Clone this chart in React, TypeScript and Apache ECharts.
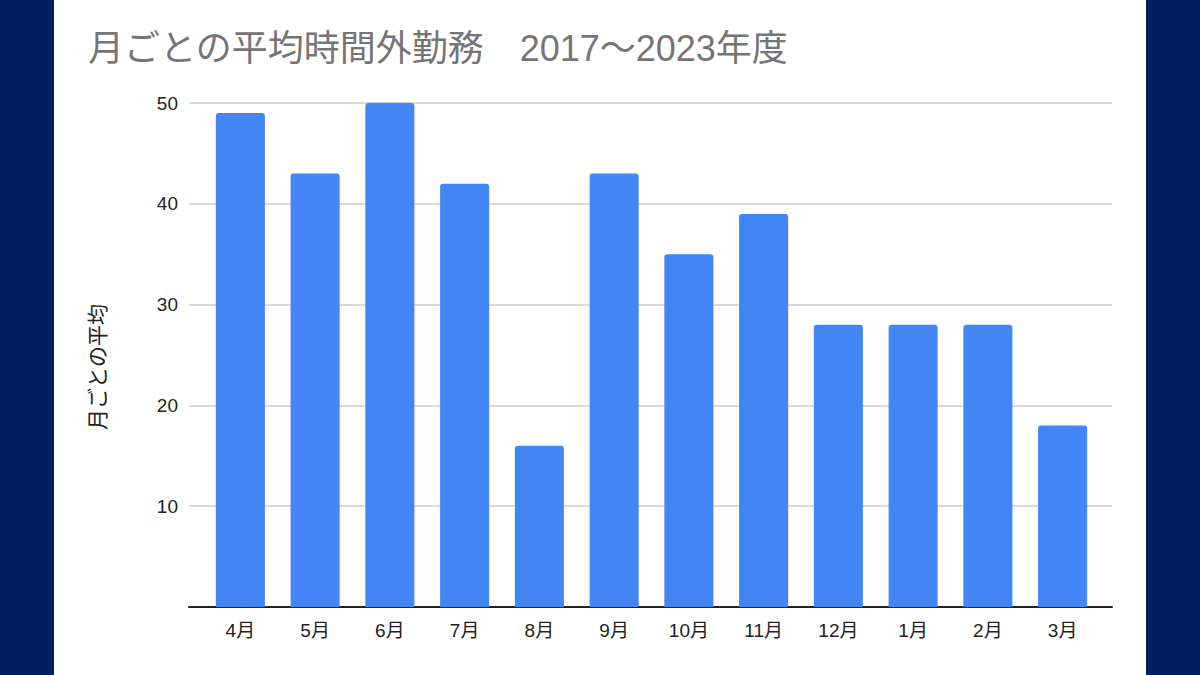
import React, { useEffect, useRef } from "react";
import * as echarts from "echarts";

const categories = ["4月", "5月", "6月", "7月", "8月", "9月", "10月", "11月", "12月", "1月", "2月", "3月"];
const values = [49, 43, 50, 42, 16, 43, 35, 39, 28, 28, 28, 18];
const yTicks = [10, 20, 30, 40, 50];
const titleText = "月ごとの平均時間外勤務　2017～2023年度";
const yAxisName = "月ごとの平均";

const FONT = "'Liberation Sans', Arial, 'Noto Sans CJK JP', sans-serif";

export default function App() {
  const ref = useRef<HTMLDivElement>(null);
  useEffect(() => {
    if (!ref.current) return;
    const chart = echarts.init(ref.current, undefined, { renderer: "svg" });
    chart.setOption({
      animation: false,
      backgroundColor: "#ffffff",
      textStyle: { fontFamily: FONT },
      title: {
        text: titleText,
        left: 83,
        top: 25,
        textStyle: { color: "#757575", fontSize: 36, fontWeight: "normal", fontFamily: FONT },
      },
      graphic: [
        { type: "rect", left: 0, top: 0, shape: { width: 54, height: 675 }, style: { fill: "#001f5f" }, silent: true },
        { type: "rect", left: 1146, top: 0, shape: { width: 54, height: 675 }, style: { fill: "#001f5f" }, silent: true },
        {
          type: "text",
          x: 97,
          y: 367,
          rotation: Math.PI / 2,
          style: {
            text: yAxisName,
            fill: "#222222",
            fontSize: 21,
            fontFamily: FONT,
            align: "center",
            verticalAlign: "middle",
          },
          silent: true,
        },
      ],
      grid: [
        { left: 189, right: 88, top: 103, bottom: 68, containLabel: false },
        { left: 203, right: 100, top: 103, bottom: 68, containLabel: false },
      ],
      xAxis: [
        {
          type: "category",
          gridIndex: 0,
          data: categories,
          axisLine: { show: true, lineStyle: { color: "#222222", width: 2 } },
          axisTick: { show: false },
          axisLabel: { show: false },
          splitLine: { show: false },
        },
        {
          type: "category",
          gridIndex: 1,
          data: categories,
          axisLine: { show: false },
          axisTick: { show: false },
          axisLabel: { color: "#222222", fontSize: 19, margin: 14, fontFamily: FONT },
          splitLine: { show: false },
        },
      ],
      yAxis: [
        {
          type: "value",
          gridIndex: 0,
          min: 0,
          max: 50,
          interval: 10,
          axisLine: { show: false },
          axisTick: { show: false },
          axisLabel: {
            color: "#222222",
            fontSize: 19,
            margin: 11,
            fontFamily: FONT,
            formatter: (v: number) => (yTicks.includes(v) ? String(v) : ""),
          },
          splitLine: { show: true, lineStyle: { color: "#cccccc", width: 1.5 } },
        },
        {
          type: "value",
          gridIndex: 1,
          min: 0,
          max: 50,
          interval: 10,
          show: false,
          splitLine: { show: false },
        },
      ],
      series: [
        {
          type: "bar",
          xAxisIndex: 1,
          yAxisIndex: 1,
          data: values,
          barWidth: "65.6%",
          z: 3,
          itemStyle: { color: "#4285f4", borderRadius: [3, 3, 0, 0] },
        },
      ],
    });
    return () => chart.dispose();
  }, []);
  return (
    <div
      ref={ref}
      style={{ position: "fixed", left: 0, top: 0, width: 1200, height: 675 }}
    />
  );
}
